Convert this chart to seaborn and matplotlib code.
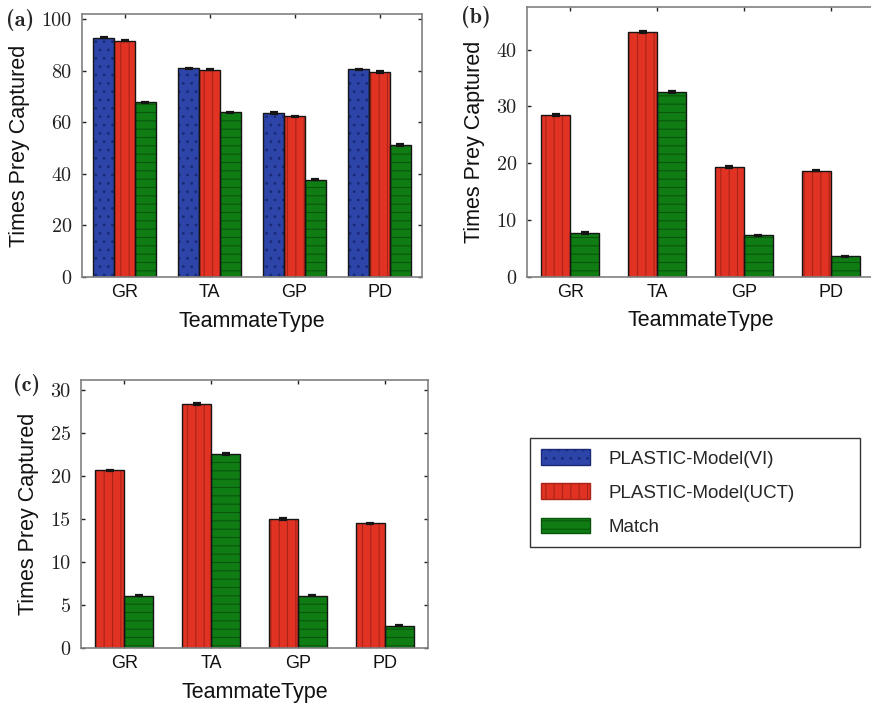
import numpy as np
import pandas as pd
import matplotlib
matplotlib.use('Agg')
import matplotlib.pyplot as plt
import seaborn as sns
from matplotlib.patches import Patch, Rectangle

# ---------------- data ----------------
teammates = ['GR', 'TA', 'GP', 'PD']
series_names = ['PLASTIC-Model(VI)', 'PLASTIC-Model(UCT)', 'Match']

a_vi = [92.8, 80.9, 63.5, 80.5]
a_uct = [91.7, 80.4, 62.3, 79.4]
a_match = [67.7, 63.8, 37.8, 51.2]
a_vi_err = [0.3, 0.3, 0.3, 0.3]
a_uct_err = [0.3, 0.3, 0.3, 0.3]
a_match_err = [0.3, 0.3, 0.3, 0.3]

b_uct = [28.5, 43.1, 19.3, 18.7]
b_match = [7.7, 32.5, 7.3, 3.6]
b_uct_err = [0.12, 0.12, 0.12, 0.12]
b_match_err = [0.12, 0.12, 0.12, 0.12]

c_uct = [20.7, 28.4, 15.0, 14.5]
c_match = [6.1, 22.6, 6.1, 2.6]
c_uct_err = [0.08, 0.08, 0.08, 0.08]
c_match_err = [0.08, 0.08, 0.08, 0.08]

a_ticks = [0, 20, 40, 60, 80, 100]
b_ticks = [0, 10, 20, 30, 40]
c_ticks = [0, 5, 10, 15, 20, 25, 30]

# ---------------- style ----------------
colors = {'PLASTIC-Model(VI)': '#2D44A8', 'PLASTIC-Model(UCT)': '#E13223', 'Match': '#0F7D14'}
hatch_colors = {'PLASTIC-Model(VI)': '#1A2A78', 'PLASTIC-Model(UCT)': '#A82418', 'Match': '#0A560D'}
hatches = {'PLASTIC-Model(VI)': '..', 'PLASTIC-Model(UCT)': '||', 'Match': '--'}

sns.set_style('white')
plt.rcParams['font.family'] = ['Liberation Sans', 'DejaVu Sans']
plt.rcParams['hatch.linewidth'] = 0.8

W, H = 871, 707
fig = plt.figure(figsize=(W / 100, H / 100), dpi=100)


def px_rect(left, right, top, bottom):
    return [left / W, 1 - bottom / H, (right - left) / W, (bottom - top) / H]


def panel(rect, data, errs, width, ylim, yticks, letter, letter_xy, right_ticks=True):
    ax = fig.add_axes(rect)
    names = list(data)
    df = pd.DataFrame({
        'TeammateType': teammates * len(names),
        'series': np.repeat(names, len(teammates)),
        'value': np.concatenate([data[n] for n in names]),
    })
    sns.barplot(data=df, x='TeammateType', y='value', hue='series', hue_order=names,
                palette=[colors[n] for n in names], width=width, errorbar=None,
                legend=False, ax=ax, saturation=1)
    for name, cont in zip(names, ax.containers):
        xs, ys = [], []
        for p in cont.patches:
            p.set_hatch(hatches[name])
            p.set_edgecolor(hatch_colors[name])
            p.set_linewidth(0)
            ax.add_patch(Rectangle(p.get_xy(), p.get_width(), p.get_height(), fill=False,
                                   ec='#151515', lw=1.0, zorder=p.get_zorder() + 0.1))
            xs.append(p.get_x() + p.get_width() / 2)
            ys.append(p.get_height())
        ax.errorbar(xs, ys, yerr=errs[name], fmt='none', ecolor='#151515', elinewidth=1,
                    capsize=3, capthick=1.6, zorder=5)
    ax.set_xlim(-0.5, 3.5)
    ax.set_ylim(*ylim)
    ax.set_yticks(yticks)
    ax.set_yticklabels([str(t) for t in yticks], fontfamily='cmr10', fontsize=14.5, color='#222222')
    ax.tick_params(axis='x', labelsize=13, pad=5, labelcolor='#111111')
    ax.tick_params(axis='y', pad=7.5)
    ax.tick_params(direction='in', length=3, width=1, color='#222222',
                   top=True, right=right_ticks, bottom=True, left=True)
    for s in ax.spines.values():
        s.set_color('#808080')
        s.set_linewidth(1.2)
    ax.set_xlabel('TeammateType', fontsize=15.5, labelpad=7, color='#111111')
    ax.set_ylabel('Times Prey Captured', fontsize=15.5, labelpad=8, color='#111111')
    fig.text(letter_xy[0] / W, 1 - letter_xy[1] / H, letter, fontfamily='cmb10', fontsize=16,
             ha='center', va='center')
    return ax


panel(px_rect(82, 422, 14, 277),
      {'PLASTIC-Model(VI)': a_vi, 'PLASTIC-Model(UCT)': a_uct, 'Match': a_match},
      {'PLASTIC-Model(VI)': a_vi_err, 'PLASTIC-Model(UCT)': a_uct_err, 'Match': a_match_err},
      0.74, (0, 102), a_ticks, '(a)', (20, 20))

panel(px_rect(527, 874, 7, 276.7),
      {'PLASTIC-Model(UCT)': b_uct, 'Match': b_match},
      {'PLASTIC-Model(UCT)': b_uct_err, 'Match': b_match_err},
      0.667, (0, 47.5), b_ticks, '(b)', (476, 17), right_ticks=False)

panel(px_rect(81, 428, 380, 648),
      {'PLASTIC-Model(UCT)': c_uct, 'Match': c_match},
      {'PLASTIC-Model(UCT)': c_uct_err, 'Match': c_match_err},
      0.667, (0, 31.2), c_ticks, '(c)', (27, 385))

handles = [Patch(facecolor=colors[n], edgecolor=hatch_colors[n], hatch=hatches[n], label=n)
           for n in series_names]
leg = fig.legend(handles=handles, loc='upper left',
                 bbox_to_anchor=(530 / W, 1 - 545 / H, 330 / W, 107 / H), mode='expand',
                 fontsize=13.5, handlelength=2.6, handleheight=0.9, handletextpad=1.0,
                 labelspacing=0.85, borderpad=0.6, borderaxespad=0, fancybox=False,
                 frameon=True, framealpha=1)
leg.get_frame().set_edgecolor('#333333')
leg.get_frame().set_linewidth(1.0)

fig.savefig('out.png', dpi=100)
